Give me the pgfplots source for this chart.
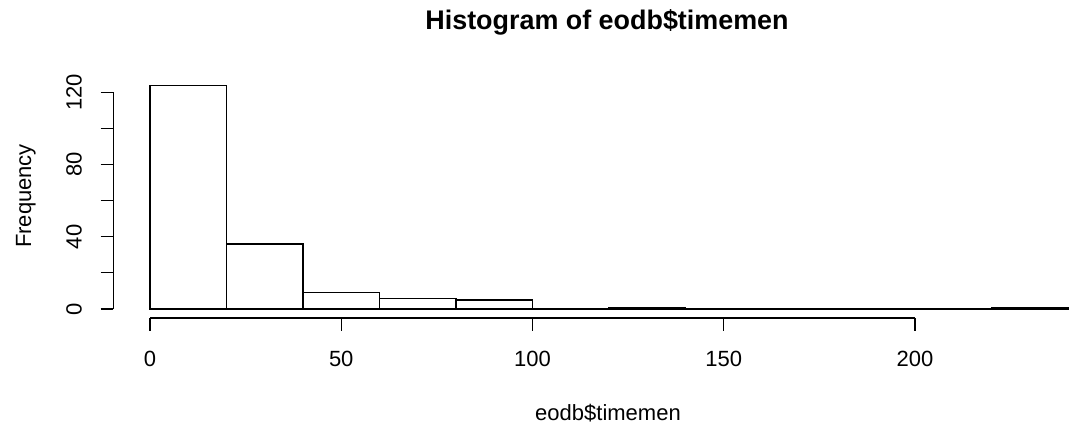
\documentclass[border=0pt]{standalone}
\usepackage{pgfplots}
\pgfplotsset{compat=1.18}
\usepackage{fontspec}
\setmainfont{Liberation Sans}
\begin{document}
\begin{tikzpicture}[x=1pt,y=1pt]
\useasboundingbox (0,0) rectangle (1071,-425);
\begin{axis}[
  scale only axis,
  width=957.7pt, height=241.9pt,
  at={(113.3pt,-318pt)}, anchor=south west,
  xmin=-9.6, xmax=240.8, ymin=-4.96, ymax=128.96,
  axis x line*=bottom, axis y line*=left,
  axis line style={draw=none},
  tick align=outside,
  major tick length=12.7pt,
  tick style={black, line width=1.1pt},
  xtick={0,50,100,150,200},
  ytick={0,20,40,60,80,100,120},
  yticklabels={0,,40,,80,,120},
  /pgf/number format/assume math mode=true,
  ticklabel style={font=\fontsize{22}{24}\selectfont, inner sep=0pt},
  xticklabel style={anchor=north, yshift=-20pt},
  yticklabel style={rotate=90, anchor=south, yshift=18.6pt},
  clip=false,
]
\addplot[ybar interval, fill=white, draw=black, line width=1.1pt]
  coordinates {(0,124)(20,36)(40,9)(60,6)(80,5)(100,0)(120,1)(140,0)(160,0)(180,0)(200,0)(220,1)(240,1)};
\draw[black, line width=1.1pt] (axis cs:0,-4.96) -- (axis cs:200,-4.96);
\draw[black, line width=1.1pt] (axis cs:-9.6,0) -- (axis cs:-9.6,120);
\end{axis}
\node[anchor=base, font=\fontsize{26.9}{30}\selectfont\bfseries] at (607,-30) {Histogram of eodb\$timemen};
\node[anchor=base, font=\fontsize{22}{24}\selectfont] at (608,-420) {eodb\$timemen};
\node[rotate=90, anchor=base, font=\fontsize{22}{24}\selectfont] at (31,-196) {Frequency};
\end{tikzpicture}
\end{document}
